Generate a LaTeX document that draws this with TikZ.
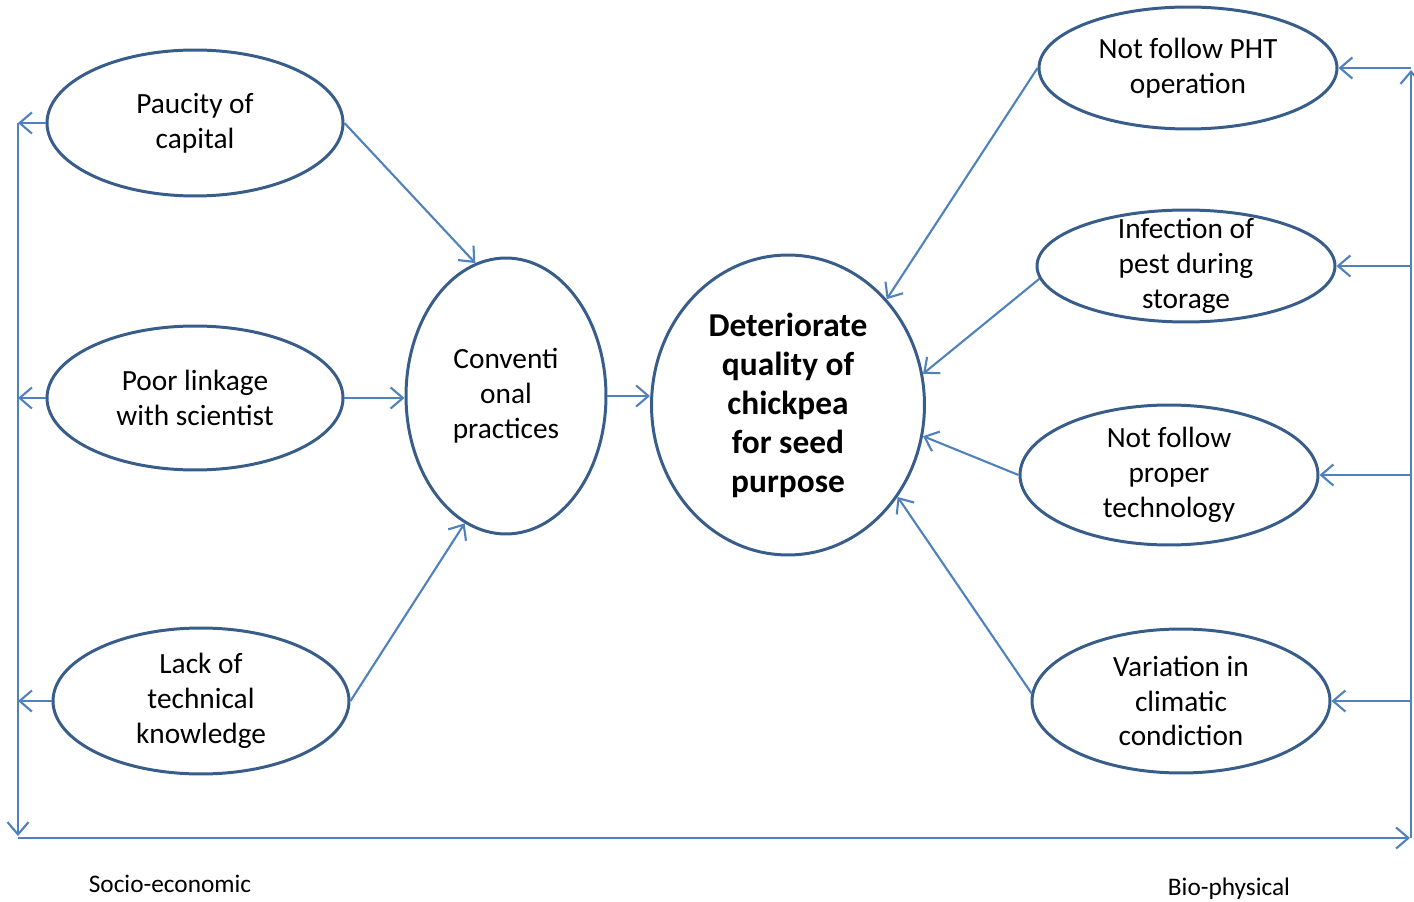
\documentclass[tikz,border=0pt]{standalone}
\usepackage{fontspec}
\setmainfont{Carlito}
\usetikzlibrary{arrows.meta,shapes.geometric}
\definecolor{rim}{RGB}{56,93,138}
\definecolor{link}{RGB}{79,129,189}

\begin{document}
\begin{tikzpicture}[x=0.02cm,y=-0.02cm,>={Straight Barb[length=7pt,width=12pt]},
  cause/.style={ellipse,draw=rim,line width=1.7pt,inner sep=0pt,align=center,
    font=\fontsize{16.7}{19.8}\selectfont},
  flow/.style={->,draw=link,line width=1.2pt},
  axislabel/.style={font=\fontsize{14.4}{17}\selectfont}]
\useasboundingbox (0,0) rectangle (1414,902);
% socio-economic side
\node[cause,minimum width=5.92cm,minimum height=2.92cm] (paucity) at (195,123) {Paucity of\\capital};
\node[cause,minimum width=5.92cm,minimum height=2.88cm] (linkage) at (195,398) {Poor linkage\\with scientist};
\node[cause,minimum width=5.92cm,minimum height=2.92cm,inner ysep=-0.05cm] (lack) at (201,701) {Lack of\\technical\\knowledge};
\node[cause,minimum width=4.0cm,minimum height=5.52cm] (conv) at (506,396) {Conventi\\onal\\practices};
% central effect
\node[cause,minimum width=5.46cm,minimum height=6.0cm,
  font=\fontsize{19}{22.2}\selectfont\bfseries] (quality) at (788,405)
  {Deteriorate\\quality of\\chickpea\\for seed\\purpose};
% bio-physical side
\node[cause,minimum width=5.96cm,minimum height=2.44cm] (pht) at (1188,68) {Not follow PHT\\operation};
\node[cause,minimum width=5.96cm,minimum height=2.24cm,inner ysep=-0.27cm] (pest) at (1186,266) {Infection of\\pest during\\storage};
\node[cause,minimum width=5.96cm,minimum height=2.8cm,inner ysep=-0.1cm] (proper) at (1169,475) {Not follow\\proper\\technology};
\node[cause,minimum width=5.96cm,minimum height=2.88cm,inner ysep=-0.05cm] (climate) at (1181,701) {Variation in\\climatic\\condiction};
% frame
\coordinate (ltop) at (18,123);
\coordinate (lbot) at (18,836);
\coordinate (bl) at (18,838);
\coordinate (br) at (1410,838);
\coordinate (rbot) at (1411,838);
\coordinate (rtop) at (1411,70);
\draw[flow] (ltop) -- (lbot);
\draw[flow] (bl) -- (br);
\draw[flow] (rbot) -- (rtop);
\foreach \n in {paucity,linkage,lack}
  \draw[flow] (\n.west) -- (\n.west -| ltop);
\foreach \n in {pht,pest,proper,climate}
  \draw[flow] (\n.east -| rtop) -- (\n.east);
% causes
\draw[flow] (paucity.east) -- (conv.103);
\draw[flow] (linkage.east) -- (linkage.east -| conv.west);
\draw[flow] (lack.east) -- (conv.252);
\draw[flow] (conv.east) -- (conv.east -| quality.west);
\draw[flow] (pht.west) -- (quality.47);
\draw[flow] (pest.185) -- (quality.13);
\draw[flow] (proper.west) -- (quality.-13);
\draw[flow] (climate.177) -- (quality.-40);
% labels
\node[axislabel] (socio) at (170,884) {Socio-economic};
\node[axislabel] (bio) at (1229,889) {Bio-physical};
\end{tikzpicture}
\end{document}
